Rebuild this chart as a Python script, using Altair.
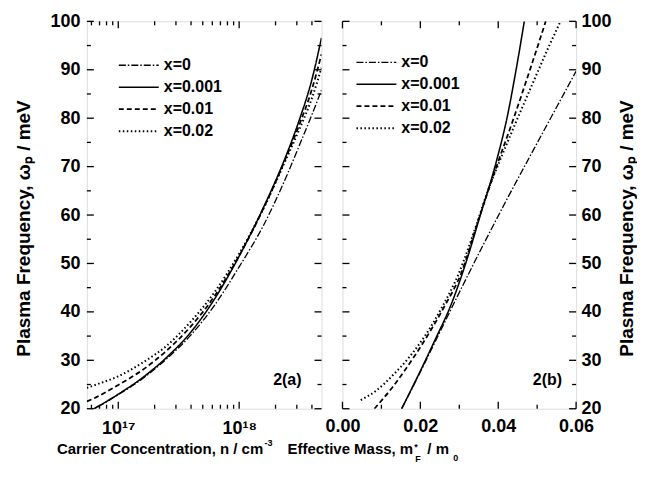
import altair as alt
import pandas as pd

FONT = "Liberation Sans"
SERIES = ["x=0", "x=0.001", "x=0.01", "x=0.02"]
DASHES = [[7, 2, 1.5, 2], [1, 0], [5, 3], [1.5, 2.5]]
WIDTHS = [1.3, 2.0, 1.4, 1.4]

# ---- panel 2(a): plasma frequency vs carrier concentration ----
N_A = [5.5e16, 6.6e16, 1.0e17, 1.585e17, 2.512e17, 3.981e17, 6.31e17,
       1.0e18, 1.585e18, 2.512e18, 3.162e18, 3.981e18, 4.8e18]
WA_X0 = [19.1, 20.2, 22.9, 26.2, 30.3, 35.2, 41.5, 49.3, 57.8, 68.5, 74.5, 80.6, 85.8]
WA_X0001 = [19.2, 20.3, 23.0, 26.4, 30.6, 35.8, 42.8, 51.5, 61.5, 73.0, 79.8, 87.8, 96.6]
WA_X001 = [21.5, 22.4, 24.9, 28.0, 32.0, 37.0, 43.4, 51.6, 61.3, 72.6, 78.8, 85.8, 93.2]
WA_X002 = [24.3, 25.0, 26.7, 29.5, 33.0, 38.0, 44.2, 52.0, 61.3, 72.2, 77.8, 84.0, 90.4]

# ---- panel 2(b): plasma frequency vs effective mass ----
MB_X0 = [0.0152, 0.0200, 0.0250, 0.0300, 0.0360, 0.0420, 0.0480, 0.0540, 0.0600]
WB_X0 = [20.0, 27.6, 35.8, 44.0, 53.6, 62.9, 71.9, 80.8, 89.7]
MB_X0001 = [0.0152, 0.0200, 0.0240, 0.0278, 0.0316, 0.0353, 0.0395, 0.0424, 0.0445, 0.0467]
WB_X0001 = [20.0, 27.8, 34.6, 41.3, 49.9, 59.7, 71.0, 80.6, 89.6, 100.0]
MB_X001 = [0.0082, 0.0128, 0.0171, 0.0220, 0.0261, 0.0305, 0.0350, 0.0399, 0.0438,
           0.0484, 0.0522]
WB_X001 = [20.0, 24.4, 29.2, 35.3, 41.0, 48.0, 59.2, 70.8, 79.6, 90.6, 100.0]
MB_X002 = [0.0047, 0.0086, 0.0128, 0.0171, 0.0214, 0.0256, 0.0299, 0.0342, 0.0376,
           0.0402, 0.0444, 0.0487, 0.0530, 0.0560]
WB_X002 = [21.8, 23.7, 26.8, 30.6, 35.3, 41.0, 48.0, 57.5, 65.6, 70.8, 78.9, 86.9, 94.8, 100.0]

# ---- axis ticks ----
Y_MAJOR = [20, 30, 40, 50, 60, 70, 80, 90, 100]
Y_MINOR = [25, 35, 45, 55, 65, 75, 85, 95]
XA_MAJOR = [1e17, 1e18]
XA_MINOR = [6e16, 7e16, 8e16, 9e16, 2e17, 3e17, 4e17, 5e17, 6e17, 7e17, 8e17, 9e17,
            2e18, 3e18, 4e18]
XB_MAJOR = [0.0, 0.02, 0.04, 0.06]
XB_MINOR = [0.01, 0.03, 0.05]

W_A, W_B, H = 235, 234, 388
MAJ, MIN = 7, 4

rows_a = []
for s, vals in zip(SERIES, [WA_X0, WA_X0001, WA_X001, WA_X002]):
    rows_a += [{"v": n, "w": w, "series": s} for n, w in zip(N_A, vals)]
df_a = pd.DataFrame(rows_a)

rows_b = []
for s, ms, ws in zip(SERIES, [MB_X0, MB_X0001, MB_X001, MB_X002],
                     [WB_X0, WB_X0001, WB_X001, WB_X002]):
    rows_b += [{"v": m, "w": w, "series": s} for m, w in zip(ms, ws)]
df_b = pd.DataFrame(rows_b)

y_scale = alt.Scale(domain=[20, 100], nice=False, zero=False)
xa_scale = alt.Scale(type="log", domain=[5.5e16, 4.8e18], nice=False)
xb_scale = alt.Scale(domain=[0, 0.06], nice=False, zero=False)


def axis(**kw):
    base = dict(domain=False, ticks=False, tickSize=0, grid=False, labelFont=FONT,
                labelFontSize=18, labelFontWeight="bold", labelColor="black",
                titleFont=FONT, titleFontWeight="bold", titleColor="black",
                labelFlush=False)
    base.update(kw)
    return alt.Axis(**base)


Y_TITLE = "Plasma Frequency, ωₚ / meV"
AXA_X = axis(values=XA_MAJOR, labelPadding=11,
             labelExpr="datum.value < 3e17 ? '10¹⁷' : '10¹⁸'", title=None)
AXA_Y = axis(orient="left", values=Y_MAJOR, labelPadding=7, title=Y_TITLE,
             titleFontSize=19, titlePadding=16, titleY=207)
AXB_X = axis(values=XB_MAJOR, format=".2f", labelPadding=9, title=None)
AXB_Y = axis(orient="right", values=Y_MAJOR, labelPadding=5, title=Y_TITLE,
             titleFontSize=19, titlePadding=6, titleAngle=270,
             titleBaseline="top", titleY=207)


def legend(x, y):
    return alt.Legend(title=None, orient="none", legendX=x, legendY=y,
                      symbolType="M-3,0H1", symbolSize=400, symbolStrokeWidth=1.5,
                      symbolStrokeColor="black", labelFont=FONT, labelFontSize=16,
                      labelFontWeight="bold", labelColor="black", labelOffset=4,
                      rowPadding=3, padding=0)


def tick_layers(xsc, xax, ysc, yax, xmaj, xmin, W):
    layers = []
    for vals, L in ((Y_MAJOR, MAJ), (Y_MINOR, MIN)):
        d = pd.DataFrame({"w": vals})
        b = alt.Chart(d).mark_rule(color="black", strokeWidth=1.3)
        layers.append(b.encode(y=alt.Y("w:Q", scale=ysc, axis=yax),
                               x=alt.value(0), x2=alt.value(L)))
        layers.append(b.encode(y=alt.Y("w:Q", scale=ysc, axis=yax),
                               x=alt.value(W), x2=alt.value(W - L)))
    for vals, L in ((xmaj, MAJ), (xmin, MIN)):
        d = pd.DataFrame({"v": vals})
        b = alt.Chart(d).mark_rule(color="black", strokeWidth=1.3)
        layers.append(b.encode(x=alt.X("v:Q", scale=xsc, axis=xax),
                               y=alt.value(H), y2=alt.value(H - L)))
        layers.append(b.encode(x=alt.X("v:Q", scale=xsc, axis=xax),
                               y=alt.value(0), y2=alt.value(L)))
    return layers


def txt(s, x, y, size, align="left"):
    return alt.Chart(pd.DataFrame({"t": [s]})).mark_text(
        font=FONT, fontSize=size, fontWeight="bold", align=align,
        baseline="alphabetic", color="black").encode(
        text="t:N", x=alt.value(x), y=alt.value(y))


dash_scale = alt.Scale(domain=SERIES, range=DASHES)
width_scale = alt.Scale(domain=SERIES, range=WIDTHS)

lines_a = alt.Chart(df_a).mark_line(color="black", clip=True, interpolate="monotone").encode(
    x=alt.X("v:Q", scale=xa_scale, axis=AXA_X),
    y=alt.Y("w:Q", scale=y_scale, axis=AXA_Y),
    strokeDash=alt.StrokeDash("series:N", scale=dash_scale, legend=legend(51, 33)),
    strokeWidth=alt.StrokeWidth("series:N", scale=width_scale, legend=None),
)

TB = H + 45
panel_a = alt.layer(
    lines_a, *tick_layers(xa_scale, AXA_X, y_scale, AXA_Y, XA_MAJOR, XA_MINOR, W_A),
    txt("2(a)", W_A - 20, H - 24, 16, "right"),
    txt("Carrier Concentration, n / cm", -30, TB, 15),
    txt("-3", 178, TB - 8, 9),
).properties(width=W_A, height=H)

lines_b = alt.Chart(df_b).mark_line(color="black", clip=True, interpolate="monotone").encode(
    x=alt.X("v:Q", scale=xb_scale, axis=AXB_X),
    y=alt.Y("w:Q", scale=y_scale, axis=AXB_Y),
    strokeDash=alt.StrokeDash("series:N", scale=dash_scale, legend=legend(33, 30)),
    strokeWidth=alt.StrokeWidth("series:N", scale=width_scale, legend=None),
)

panel_b = alt.layer(
    lines_b, *tick_layers(xb_scale, AXB_X, y_scale, AXB_Y, XB_MAJOR, XB_MINOR, W_B),
    txt("2(b)", W_B - 14, H - 24, 16, "right"),
    txt("Effective Mass, m", -55, TB, 15),
    txt("*", 72, TB - 4, 9),
    txt("F", 73, TB + 8, 9),
    txt(" / m", 85, TB, 15),
    txt("0", 111, TB + 7, 9),
).properties(width=W_B, height=H)

chart = alt.hconcat(panel_a, panel_b, spacing=21, bounds="flush").resolve_scale(
    strokeDash="independent", strokeWidth="independent"
).resolve_legend(strokeDash="independent", strokeWidth="independent").properties(
    padding={"left": 6, "top": 3, "right": 0, "bottom": 0}
).configure_view(stroke="black", strokeWidth=2).configure(background="white")

chart.save("out.html", embed_options={"renderer": "svg", "actions": False})
